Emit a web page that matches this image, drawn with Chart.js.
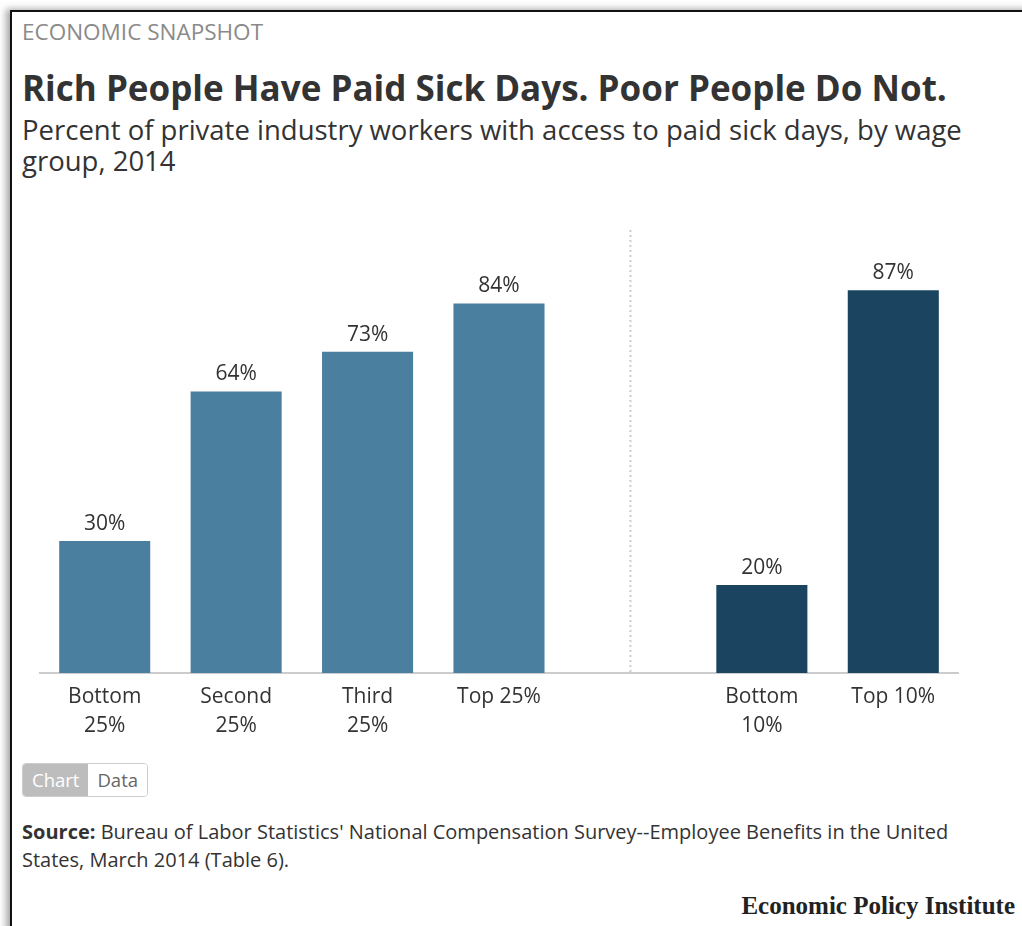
<!DOCTYPE html>
<html>
<head>
<meta charset="utf-8">
<script src="https://cdn.jsdelivr.net/npm/chart.js@4/dist/chart.umd.min.js"></script>
<style>
  body { margin: 0; background: #fff; font-family: "Open Sans", Lato, sans-serif; color: #333; }
  #frame { position: absolute; left: 10px; top: 10px; width: 1100px; height: 1000px;
           border-left: 2px solid #111; border-top: 2px solid #111;
           box-shadow: -4px -1px 7px rgba(0,0,0,0.35); }
  .t { position: absolute; left: 22px; white-space: nowrap; }
  #kicker { top: 20px; font-size: 22.5px; line-height: 24px; color: #8a8a8a; }
  #title { top: 67px; font-size: 35px; line-height: 42px; font-weight: bold; color: #333; }
  #sub { top: 114px; font-size: 27.5px; line-height: 31px; color: #333; }
  #chartBox { position: absolute; left: 39px; top: 200px; width: 920px; height: 553px; }
  #toggle { position: absolute; left: 22px; top: 763px; height: 32px; display: flex;
            border: 1px solid #ccc; border-radius: 4px; overflow: hidden; font-size: 18.5px; }
  #toggle span { padding: 0 9px; line-height: 32px; }
  #toggle .on { background: #bdbdbd; color: #fff; }
  #toggle .off { background: #fff; color: #666; }
  #source { top: 818px; font-size: 20px; line-height: 28px; color: #333; }
  #epi { position: absolute; right: 7px; top: 891px; font-family: "Liberation Serif", serif;
         font-weight: bold; font-size: 25px; line-height: 30px; color: #222; }
</style>
</head>
<body>
<div id="frame"></div>
<div class="t" id="kicker">ECONOMIC SNAPSHOT</div>
<div class="t" id="title">Rich People Have Paid Sick Days. Poor People Do Not.</div>
<div class="t" id="sub">Percent of private industry workers with access to paid sick days, by wage<br>group, 2014</div>
<div id="chartBox"><canvas id="chart"></canvas></div>
<div id="toggle"><span class="on">Chart</span><span class="off">Data</span></div>
<div class="t" id="source"><b>Source:</b> Bureau of Labor Statistics' National Compensation Survey--Employee Benefits in the United<br>States, March 2014 (Table 6).</div>
<div id="epi">Economic Policy Institute</div>

<script>
// wage groups; the empty slot holds the divider between quartiles and deciles
const categories = [["Bottom", "25%"], ["Second", "25%"], ["Third", "25%"], "Top 25%", "", ["Bottom", "10%"], "Top 10%"];
const quartileValues = [30, 64, 73, 84, null, null, null];
const decileValues = [null, null, null, null, null, 20, 87];
const yTicks = [0, 100];

const dividerIndex = 4;
const fontFamily = "'Open Sans', Lato, sans-serif";

// draws the dotted line between the two groups
const dividerPlugin = {
  id: "divider",
  beforeDatasetsDraw(chart) {
    const ctx = chart.ctx;
    const x = chart.scales.x.getPixelForValue(dividerIndex);
    ctx.save();
    ctx.strokeStyle = "#cccccc";
    ctx.lineWidth = 2;
    ctx.setLineDash([2, 3]);
    ctx.beginPath();
    ctx.moveTo(x, chart.chartArea.top - 3);
    ctx.lineTo(x, chart.chartArea.bottom);
    ctx.stroke();
    ctx.restore();
  }
};

// value labels above bars
const labelPlugin = {
  id: "barLabels",
  afterDatasetsDraw(chart) {
    const ctx = chart.ctx;
    ctx.save();
    ctx.font = "21px " + fontFamily;
    ctx.fillStyle = "#333";
    ctx.textAlign = "center";
    ctx.textBaseline = "middle";
    chart.data.datasets.forEach((ds, i) => {
      chart.getDatasetMeta(i).data.forEach((bar, j) => {
        if (ds.data[j] == null) return;
        ctx.fillText(ds.data[j] + "%", bar.x, bar.y - 17);
      });
    });
    ctx.restore();
  }
};

new Chart(document.getElementById("chart"), {
  type: "bar",
  data: {
    labels: categories,
    datasets: [
      { data: quartileValues, backgroundColor: "#4a7fa0", grouped: false },
      { data: decileValues, backgroundColor: "#1b4460", grouped: false }
    ]
  },
  options: {
    responsive: true,
    maintainAspectRatio: false,
    animation: false,
    events: [],
    layout: { padding: { top: 33, bottom: 0, left: 0, right: 0 } },
    barPercentage: 0.82,
    categoryPercentage: 0.845,
    plugins: { legend: { display: false }, tooltip: { enabled: false } },
    scales: {
      x: {
        grid: { display: false, drawTicks: false },
        border: { display: true, color: "#cccccc", width: 2 },
        ticks: { color: "#333", font: { size: 21, family: fontFamily, lineHeight: 1.38 }, padding: 10, maxRotation: 0, autoSkip: false },
        afterFit(scale) { scale.height = 80; }
      },
      y: {
        display: false,
        min: yTicks[0],
        max: yTicks[1]
      }
    }
  },
  plugins: [dividerPlugin, labelPlugin]
});
</script>
</body>
</html>
